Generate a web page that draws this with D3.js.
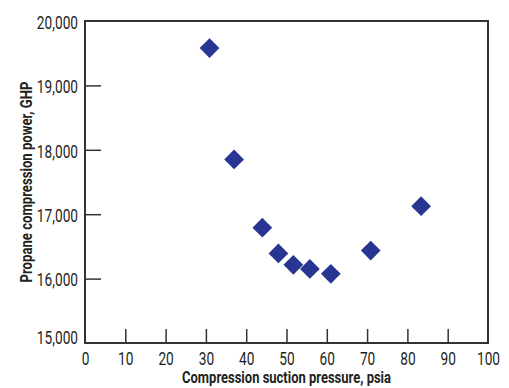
<!DOCTYPE html>
<html>
<head>
<meta charset="utf-8">
<script src="https://cdn.jsdelivr.net/npm/d3@7"></script>
<style>
  body { margin: 0; background: #fff; }
  text { font-family: "Roboto", "DejaVu Sans", sans-serif; fill: #231f20; }
</style>
</head>
<body>
<svg id="chart"></svg>
<script>
// suction pressure (psia) vs propane compression power (GHP)
var pressure = [30.9, 37.0, 44.0, 48.0, 51.7, 55.8, 61.0, 70.9, 83.4];
var power = [19580, 17850, 16790, 16390, 16215, 16150, 16075, 16435, 17125];
var xTicks = [0, 10, 20, 30, 40, 50, 60, 70, 80, 90, 100];
var yTicks = [15000, 16000, 17000, 18000, 19000, 20000];

var W = 509, H = 388;
var margin = {left: 85, right: 21, top: 21, bottom: 45};

var svg = d3.select("#chart").attr("width", W).attr("height", H);

var x = d3.scaleLinear().domain([0, 100]).range([margin.left, W - margin.right]);
var y = d3.scaleLinear().domain([15000, 20000]).range([H - margin.bottom, margin.top]);

// squeeze text horizontally, the original uses a condensed face
function condense(sel, k) {
  sel.each(function() {
    var len = this.getComputedTextLength();
    d3.select(this).attr("textLength", len * k).attr("lengthAdjust", "spacingAndGlyphs");
  });
}

// frame
svg.append("rect")
  .attr("x", x(0)).attr("y", y(20000))
  .attr("width", x(100) - x(0)).attr("height", y(15000) - y(20000))
  .attr("fill", "none").attr("stroke", "#333").attr("stroke-width", 2);

var xAxis = svg.append("g")
  .attr("transform", "translate(0," + y(15000) + ")")
  .call(d3.axisBottom(x).tickValues(xTicks).tickSize(-14).tickPadding(9).tickFormat(d3.format("d")));

var yAxis = svg.append("g")
  .attr("transform", "translate(" + x(0) + ",0)")
  .call(d3.axisLeft(y).tickValues(yTicks).tickSize(-16).tickPadding(7).tickFormat(d3.format(",")));

[xAxis, yAxis].forEach(function(a) {
  a.select(".domain").remove();
  a.selectAll(".tick line").attr("stroke", "#333").attr("stroke-width", 1.5);
  a.selectAll(".tick text")
    .attr("font-family", null)
    .attr("font-size", null)
    .style("font-size", "18px").attr("fill", "#231f20");
});
// hide the end ticks that would sit on the frame
xAxis.selectAll(".tick line").filter(function(d) { return d == 0 || d == 100; }).remove();
yAxis.selectAll(".tick line").filter(function(d) { return d == 15000 || d == 20000; }).remove();
yAxis.selectAll(".tick text").attr("dy", "0.4em");
// bottom label is nudged up so it clears the x labels
yAxis.selectAll(".tick text").filter(function(d) { return d == 15000; }).attr("y", -7);

condense(xAxis.selectAll(".tick text"), 0.76);
condense(yAxis.selectAll(".tick text"), 0.76);

svg.append("text")
  .attr("x", (x(0) + x(100)) / 2).attr("y", 383)
  .attr("text-anchor", "middle")
  .style("font-size", "17px").style("font-weight", "bold")
  .attr("textLength", 209).attr("lengthAdjust", "spacingAndGlyphs")
  .text("Compression suction pressure, psia");

svg.append("text")
  .attr("transform", "translate(32," + ((y(15000) + y(20000)) / 2) + ") rotate(-90)")
  .attr("text-anchor", "middle")
  .style("font-size", "17px").style("font-weight", "bold")
  .attr("textLength", 201).attr("lengthAdjust", "spacingAndGlyphs")
  .text("Propane compression power, GHP");

var diamond = d3.symbol().type(d3.symbolSquare).size(195);

svg.append("g").selectAll("path")
  .data(pressure)
  .enter()
  .append("path")
  .attr("d", diamond)
  .attr("transform", function(d, i) { return "translate(" + x(d) + "," + y(power[i]) + ") rotate(45)"; })
  .attr("fill", "#283593");
</script>
</body>
</html>
